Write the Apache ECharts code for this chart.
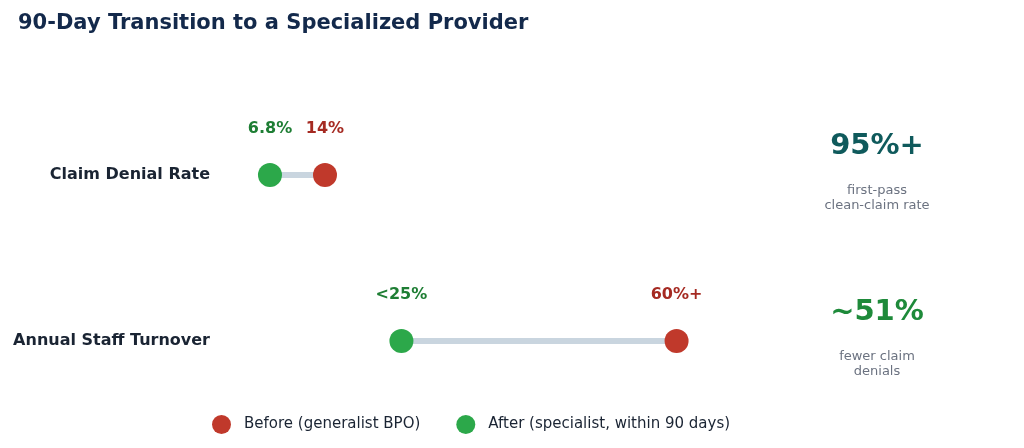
<!DOCTYPE html>
<html>
<head>
<meta charset="utf-8">
<script src="https://cdn.jsdelivr.net/npm/echarts@6/dist/echarts.min.js"></script>
<style>
  html, body { margin: 0; padding: 0; background: #fff; }
  #chart { width: 1024px; height: 448px; }
</style>
</head>
<body>
<div id="chart"></div>
<script>
// data
const categories = ['Claim Denial Rate', 'Annual Staff Turnover'];
const beforeValues = [14, 60];
const afterValues = [6.8, 24];
const beforeLabels = ['14%', '60%+'];
const afterLabels = ['6.8%', '<25%'];
const statValues = ['95%+', '~51%'];
const statNotes = ['first-pass\nclean-claim rate', 'fewer claim\ndenials'];

const font = '"DejaVu Sans", Verdana, sans-serif';
const red = '#c0392b';
const green = '#2ca84a';

const chart = echarts.init(document.getElementById('chart'));

const statText = [];
statValues.forEach((v, i) => {
  const y0 = i === 0 ? 146 : 312;
  statText.push({
    type: 'text',
    x: 877, y: y0,
    style: {
      text: v, fontFamily: font, fontSize: 29, fontWeight: 'bold',
      fill: i === 0 ? '#0f5a5c' : '#1e8a3a', align: 'center', verticalAlign: 'middle'
    }
  });
  statText.push({
    type: 'text',
    x: 877, y: y0 + 37,
    style: {
      text: statNotes[i], fontFamily: font, fontSize: 13, lineHeight: 15,
      fill: '#6b7280', align: 'center', verticalAlign: 'top'
    }
  });
});

const option = {
  backgroundColor: '#fff',
  textStyle: { fontFamily: font },
  title: {
    text: '90-Day Transition to a Specialized Provider',
    left: 13,
    top: 8,
    textStyle: { fontFamily: font, fontSize: 21, fontWeight: 'bold', color: '#13294b' }
  },
  legend: {
    left: 207,
    top: 410,
    itemWidth: 19,
    itemHeight: 19,
    itemGap: 36,
    icon: 'circle',
    textStyle: { fontFamily: font, fontSize: 15, color: '#1a2433', padding: [0, 0, 0, 8] },
    data: ['Before (generalist BPO)', 'After (specialist, within 90 days)']
  },
  grid: { left: 218, width: 535, top: 92, height: 332 },
  xAxis: {
    type: 'value',
    min: 0,
    max: 70,
    show: false
  },
  yAxis: {
    type: 'category',
    data: categories,
    inverse: true,
    axisLine: { show: false },
    axisTick: { show: false },
    splitLine: { show: false },
    axisLabel: {
      margin: 8,
      fontFamily: font,
      fontSize: 16,
      fontWeight: 'bold',
      color: '#1a2433'
    }
  },
  graphic: statText,
  series: [
    {
      type: 'custom',
      silent: true,
      z: 1,
      renderItem: (params, api) => {
        const a = api.coord([api.value(0), api.value(2)]);
        const b = api.coord([api.value(1), api.value(2)]);
        return {
          type: 'line',
          shape: { x1: a[0], y1: a[1], x2: b[0], y2: b[1] },
          style: { stroke: '#c9d5df', lineWidth: 6 }
        };
      },
      encode: { x: [0, 1], y: 2 },
      data: categories.map((c, i) => [afterValues[i], beforeValues[i], i])
    },
    {
      name: 'Before (generalist BPO)',
      type: 'scatter',
      z: 3,
      symbolSize: 24,
      itemStyle: { color: red, opacity: 1 },
      label: {
        show: true,
        position: 'top',
        distance: 26,
        fontFamily: font,
        fontSize: 16,
        fontWeight: 'bold',
        color: '#a52a22',
        formatter: p => beforeLabels[p.dataIndex]
      },
      data: categories.map((c, i) => [beforeValues[i], c])
    },
    {
      name: 'After (specialist, within 90 days)',
      type: 'scatter',
      z: 3,
      symbolSize: 24,
      itemStyle: { color: green, opacity: 1 },
      label: {
        show: true,
        position: 'top',
        distance: 26,
        fontFamily: font,
        fontSize: 16,
        fontWeight: 'bold',
        color: '#1e7e34',
        formatter: p => afterLabels[p.dataIndex]
      },
      data: categories.map((c, i) => [afterValues[i], c])
    }
  ]
};

chart.setOption(option);
</script>
</body>
</html>
